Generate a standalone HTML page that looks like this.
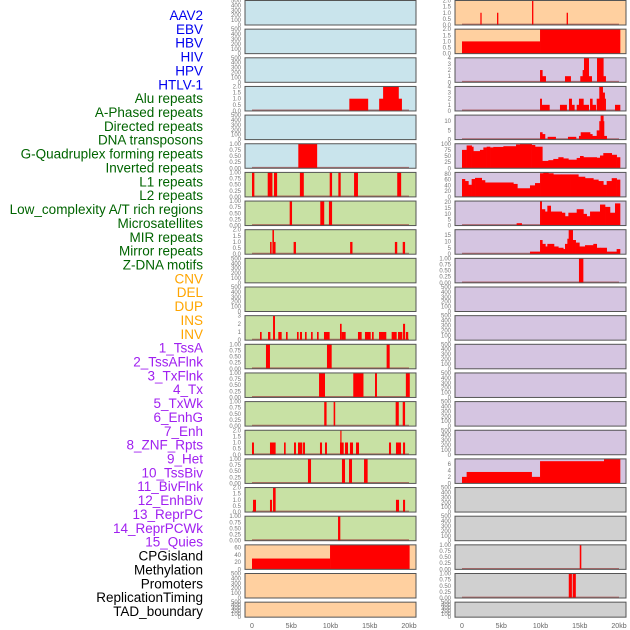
<!DOCTYPE html>
<html><head><meta charset="utf-8"><style>
body{margin:0;background:#fff;width:630px;height:630px;overflow:hidden}
svg{display:block;font-family:"Liberation Sans",sans-serif}
</style></head><body>
<svg id="chart" width="630" height="630" xmlns="http://www.w3.org/2000/svg"></svg>
<script>
const trackLabels=["AAV2","EBV","HBV","HIV","HPV","HTLV-1","Alu repeats","A-Phased repeats","Directed repeats","DNA transposons","G-Quadruplex forming repeats","Inverted repeats","L1 repeats","L2 repeats","Low_complexity A/T rich regions","Microsatellites","MIR repeats","Mirror repeats","Z-DNA motifs","CNV","DEL","DUP","INS","INV","1_TssA","2_TssAFlnk","3_TxFlnk","4_Tx","5_TxWk","6_EnhG","7_Enh","8_ZNF_Rpts","9_Het","10_TssBiv","11_BivFlnk","12_EnhBiv","13_ReprPC","14_ReprPCWk","15_Quies","CPGisland","Methylation","Promoters","ReplicationTiming","TAD_boundary"];
const labelColors=["#0000ee","#0000ee","#0000ee","#0000ee","#0000ee","#0000ee","#006400","#006400","#006400","#006400","#006400","#006400","#006400","#006400","#006400","#006400","#006400","#006400","#006400","#ffa500","#ffa500","#ffa500","#ffa500","#ffa500","#a020f0","#a020f0","#a020f0","#a020f0","#a020f0","#a020f0","#a020f0","#a020f0","#a020f0","#a020f0","#a020f0","#a020f0","#a020f0","#a020f0","#a020f0","#000","#000","#000","#000","#000"];
const xTicks=[0,5,10,15,20];
const xTickLabels=["0","5kb","10kb","15kb","20kb"];
const leftBg=["#c9e4ec","#c9e4ec","#c9e4ec","#c9e4ec","#c9e4ec","#c9e4ec","#c8e1a4","#c8e1a4","#c8e1a4","#c8e1a4","#c8e1a4","#c8e1a4","#c8e1a4","#c8e1a4","#c8e1a4","#c8e1a4","#c8e1a4","#c8e1a4","#c8e1a4","#ffd0a0","#ffd0a0","#ffd0a0"];
const rightBg=["#ffd0a0","#ffd0a0","#d5c5e1","#d5c5e1","#d5c5e1","#d5c5e1","#d5c5e1","#d5c5e1","#d5c5e1","#d5c5e1","#d5c5e1","#d5c5e1","#d5c5e1","#d5c5e1","#d5c5e1","#d5c5e1","#d5c5e1","#d0d0d0","#d0d0d0","#d0d0d0","#d0d0d0","#d0d0d0"];
// y-axis maxima (null = empty track)
const leftYMax=[null,null,null,2,null,1,1,1,2,null,null,3,1,1,1,2,1,2,1,68,null,null];
const rightYMax=[2,2,4,4,13.3,100,85,21,19,1,null,null,null,null,null,null,7.5,null,null,1,1,null];
const leftTicks=[null,null,null,[0,0.5,1,1.5,2],null,[0,0.25,0.5,0.75,1],[0,0.25,0.5,0.75,1],[0,0.25,0.5,0.75,1],[0,0.5,1,1.5,2],null,null,[0,1,2,3],[0,0.25,0.5,0.75,1],[0,0.25,0.5,0.75,1],[0,0.25,0.5,0.75,1],[0,0.5,1,1.5,2],[0,0.25,0.5,0.75,1],[0,0.5,1,1.5,2],[0,0.25,0.5,0.75,1],[0,20,40,60],null,null];
const rightTicks=[[0,0.5,1,1.5,2],[0,0.5,1,1.5,2],[0,1,2,3,4],[0,1,2,3,4],[0,5,10],[0,25,50,75,100],[0,20,40,60,80],[0,5,10,15,20],[0,5,10,15],[0,0.25,0.5,0.75,1],null,null,null,null,null,null,[0,2,4,6],null,null,[0,0.25,0.5,0.75,1],[0,0.25,0.5,0.75,1],null];
const emptyTicks=[0,100,200,300,400,500];
// bars: [startKb, endKb, value]
const leftBars={
 3:[[12.4,14.8,1],[16.2,19.1,1],[16.7,18.7,2]],
 5:[[5.9,8.3,1]],
 6:[[0,0.3,1],[2.0,2.6,1],[2.8,3.2,1],[6.1,6.6,1],[9.9,10.2,1],[11.0,11.3,1],[13.0,13.5,1],[18.5,19.0,1]],
 7:[[4.8,5.1,1],[8.7,9.2,1],[9.8,10.2,1]],
 8:[[2.3,2.5,1],[2.6,2.8,2],[2.8,3.0,1],[5.3,5.6,1],[12.5,12.8,1],[18.2,18.5,1],[19.2,19.5,1]],
 11:[[1.02,1.23,1],[2.04,2.34,1],[2.68,2.93,3],[3.35,3.78,1],[4.33,4.54,1],[5.73,5.94,1],[6.11,6.37,1],[6.75,6.96,1],[7.52,7.73,1],[8.28,8.49,1],[9.17,9.89,1],[11.21,11.42,2],[11.42,11.93,1],[13.5,13.97,1],[14.39,15.12,1],[15.29,15.5,1],[16.18,17.11,1],[17.79,18.43,1],[18.6,19.15,1],[19.24,19.5,2],[19.6,19.9,1]],
 12:[[1.78,2.29,1],[9.55,10.15,1],[17.15,17.54,1]],
 13:[[8.54,9.3,1],[12.9,14.2,1],[15.67,15.92,1],[19.6,20.1,1]],
 14:[[9.2,9.5,1],[10.4,10.6,1],[18.3,18.7,1],[19.2,19.5,1]],
 15:[[0,0.25,1],[2.29,3.01,1],[4.08,4.29,1],[5.35,5.6,1],[5.86,6.41,1],[6.5,6.75,1],[8.66,8.92,1],[9.3,9.55,1],[11.21,11.68,1],[11.25,11.38,2],[11.85,12.23,1],[12.48,12.87,1],[13.25,13.63,1],[17.45,17.71,1],[18.34,18.98,1],[19.24,19.5,1]],
 16:[[7.13,7.52,1],[11.46,11.85,1],[12.36,12.74,1],[14.27,14.73,1]],
 17:[[0.13,0.51,1],[2.29,2.55,1],[2.68,3.01,2],[18.34,18.73,1],[19.24,19.5,1]],
 18:[[10.96,11.25,1]],
 19:[[0,9.94,30],[9.94,20.08,68]]
};
const rightBars={
 0:[[2.34,2.5,1],[4.46,4.63,1],[8.92,9.09,2],[13.33,13.5,1]],
 9:[[14.9,15.46,1]],
 19:[[15.0,15.2,1]],
 20:[[13.6,14.0,1],[14.1,14.5,1]]
};
// step series: edges (kb) and values
const ebvEdges=[0,9.94,20.13], ebvVals=[1,2];
const hpvEdges=[0,9.94,10.23,10.66,13.12,13.84,15.07,15.37,15.54,16.14,16.52,17.2,18.0,18.3,20.13], hpvVals=[0,2,1,0,1,0,1,2,4,1,0,4,1,0];
const aphEdges=[0,9.94,10.15,11.13,12.48,13.33,13.63,13.97,14.31,14.61,14.9,15.46,16.14,16.31,16.6,17.03,17.16,17.49,17.92,18.17,18.3,19.49,20.13], aphVals=[0,2,1,0,1,0,2,1,0,1,2,1,0,2,1,0,2,4,3,2,0,1];
const dnaEdges=[0,9.94,10.23,10.57,10.91,11.93,13.5,14.52,14.9,15.12,16.31,16.6,17.16,17.49,17.66,18.0,18.09,18.43,20.13], dnaVals=[0,4,3,0,1.5,0,1.5,0,2,4,3,2,5,10,13,10,2,0];
const invEdges=[0,0.59,1.23,1.44,2.29,2.72,3.14,3.57,3.99,5.27,6.88,7.39,8.87,9.3,10.23,11.0,11.63,12.27,12.9,13.55,14.61,15.03,15.46,17.16,17.58,18.0,19.07,19.7,20.13], invVals=[75,93,88,70,75,85,88,85,87,90,97,100,95,88,30,33,38,45,40,35,42,50,45,43,52,62,55,45];
const l2Edges=[0,0.38,0.81,1.23,1.66,2.51,2.93,6.54,7.05,8.66,9.3,9.94,10.36,11.0,11.63,12.7,13.76,14.82,15.67,16.73,17.37,18.0,18.43,19.07,19.7,20.13], l2Vals=[62,55,42,62,66,58,50,45,30,40,48,82,85,82,78,78,78,70,65,60,55,42,55,65,60];
const msEdges=[0,6.96,7.6,9.94,10.15,10.57,10.87,11.3,12.7,13.12,13.55,14.61,15.46,15.88,16.31,16.73,17.58,18.22,18.85,19.49,20.13], msVals=[0,2,0,21,14,12,17,12,11,8,11,14,10,8,12,12,18,16,11,19];
const mirEdges=[0,8.66,9.94,10.23,10.62,10.87,11.72,12.27,12.9,13.12,13.42,13.59,14.1,14.48,14.95,15.67,16.73,17.16,17.58,18.43,19.7,20.13], mirVals=[0,2,11,8,6,8,6,5,4,8,12,19,11,9,6,7,8,5,5,2,4];
const tssBivEdges=[0,0.59,8.87,9.94,18.09,20.13], tssBivVals=[2,3.5,2,6.8,7.5];
const rightSteps={1:[ebvEdges,ebvVals],2:[hpvEdges,hpvVals],3:[aphEdges,aphVals],4:[dnaEdges,dnaVals],5:[invEdges,invVals],6:[l2Edges,l2Vals],7:[msEdges,msVals],8:[mirEdges,mirVals],16:[tssBivEdges,tssBivVals]};

const NS="http://www.w3.org/2000/svg";
const svg=document.getElementById('chart');
function mk(tag,attrs,parent){const e=document.createElementNS(NS,tag);for(const k in attrs)e.setAttribute(k,attrs[k]);(parent||svg).appendChild(e);return e;}
const ROW=28.65, H=24.5;
const cols=[{x0:245,x1:416,d0:252,bg:leftBg,ym:leftYMax,tk:leftTicks,bars:leftBars,steps:{}},{x0:455,x1:626,d0:462,bg:rightBg,ym:rightYMax,tk:rightTicks,bars:rightBars,steps:rightSteps}];
const KB=7.85;
function fmt(t,ticks){const mx=ticks[ticks.length-1];if(mx===1)return t.toFixed(2);if(mx===2)return t.toFixed(1);return String(t);}

// labels
trackLabels.forEach((l,k)=>{
 const t=mk('text',{x:203,y:15+k*13.86+5,'text-anchor':'end','font-size':'13.5',fill:labelColors[k]});
 t.textContent=l;
 
 
});

cols.forEach((c,ci)=>{
 const xs=kb=>c.d0+kb*KB;
 for(let i=0;i<22;i++){
  const top=i*ROW+0.5, h=(i===21)?15:H;
  const g=mk('g',{});
  
  
  mk('rect',{x:c.x0,y:top,width:c.x1-c.x0,height:h,fill:c.bg[i]},g);
  const ym=c.ym[i];
  const ticks=ym==null?emptyTicks:c.tk[i];
  const ymax=ym==null?500:ym;
  const ys=v=>top+h-Math.min(v,ymax)/ymax*h;
  ticks.forEach(t=>{
   const tx=mk('text',{x:c.x0-4,y:ys(t)+2,'text-anchor':'end','font-size':'6',fill:'#777'},g);
   tx.textContent=ym==null?String(t):fmt(t,ticks);
   
   
  });
  if(ym!=null){
   mk('line',{x1:xs(0),x2:xs(20),y1:top+h-0.8,y2:top+h-0.8,stroke:'#a04040','stroke-width':1.2,opacity:0.7},g);
   (c.bars[i]||[]).forEach(b=>{
    const r=mk('rect',{x:xs(b[0]),y:ys(b[2]),width:Math.max(1.2,(b[1]-b[0])*KB),height:top+h-ys(b[2]),fill:'#ff0000'},g);
    
    
   });
   const st=c.steps[i];
   if(st){
    const ed=st[0],vs=st[1];
    for(let j=0;j<vs.length;j++){
     if(vs[j]<=0)continue;
     const r=mk('rect',{x:xs(ed[j]),y:ys(vs[j]),width:(ed[j+1]-ed[j])*KB+0.3,height:top+h-ys(vs[j]),fill:'#ff0000'},g);
     
     
    }
   }
  }
  mk('rect',{x:c.x0,y:top,width:c.x1-c.x0,height:h,fill:'none',stroke:'#555','stroke-width':1},g);
 }
 xTicks.forEach((t,k)=>{
  const tx=mk('text',{x:xs(t),y:628,'text-anchor':'middle','font-size':'7',fill:'#666'});
  tx.textContent=xTickLabels[k];
  
  
 });
});
</script>
</body></html>
